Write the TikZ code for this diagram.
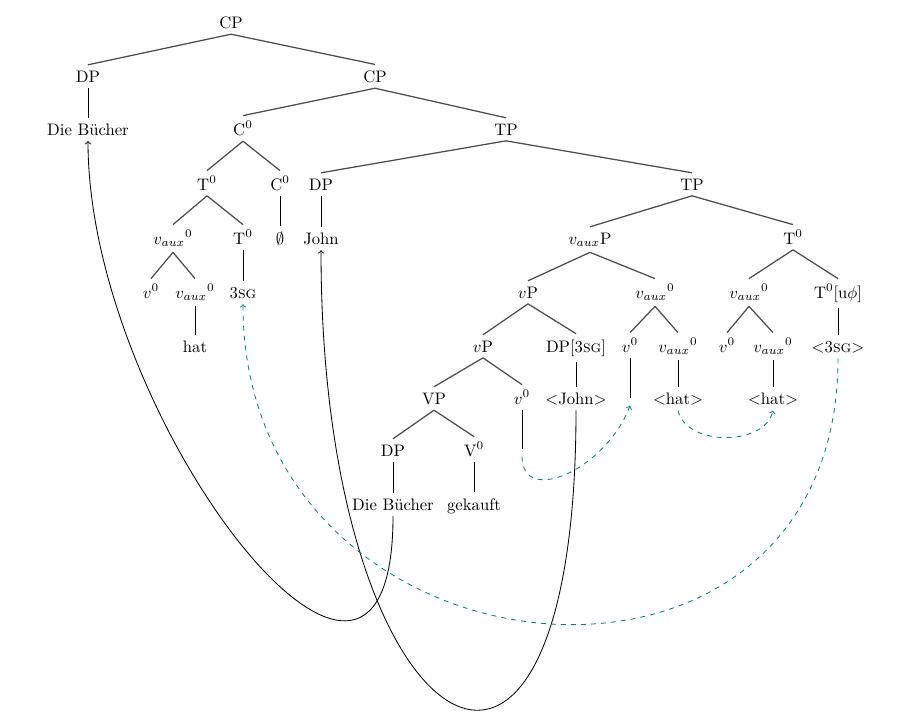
\documentclass[tikz,border=0pt]{standalone}
\begin{document}
\begin{tikzpicture}[x=0.6pt,y=0.6pt,yscale=-1,
    lbl/.style={anchor=base,inner sep=3.3pt},
    nil/.style={inner sep=0pt,minimum size=4pt},
    br/.style={draw=black!70,line width=0.75pt},
    un/.style={draw=black,line width=0.5pt},
    mv/.style={->,draw=black,line width=0.5pt},
    tmv/.style={->,draw=teal,dashed,line width=0.5pt}]
    \useasboundingbox (0,0) rectangle (911,722);

    % Text Node
    \node [lbl] (cp1) at (231,28) {CP};
    % Text Node
    \node [lbl] (dp1) at (88,82) {DP};
    \node [lbl] (cp2) at (375,82) {CP};
    % Text Node
    \node [lbl] (db1) at (88,135) {Die B\"ucher};
    \node [lbl] (c1) at (243,135) {C$^0$};
    \node [lbl] (tp1) at (506,135) {TP};
    % Text Node
    \node [lbl] (t1) at (207,190) {T$^0$};
    \node [lbl] (c2) at (280,190) {C$^0$};
    \node [lbl] (dp2) at (321,190) {DP};
    \node [lbl] (tp2) at (692,190) {TP};
    % Text Node
    \node [lbl] (va1) at (173,244) {$v_{aux}{}^0$};
    \node [lbl] (t2) at (243,244) {T$^0$};
    \node [lbl] (emp) at (280,244) {$\emptyset$};
    \node [lbl] (jn1) at (321,244) {John};
    \node [lbl] (vaxp) at (590,244) {$v_{aux}$P};
    \node [lbl] (t3) at (793,244) {T$^0$};
    % Text Node
    \node [lbl] (v1) at (151,298) {$v^0$};
    \node [lbl] (va2) at (195,298) {$v_{aux}{}^0$};
    \node [lbl] (sg1) at (243,298) {3\textsc{sg}};
    \node [lbl] (vp1) at (528,298) {$v$P};
    \node [lbl] (va3) at (655,298) {$v_{aux}{}^0$};
    \node [lbl] (va4) at (749,298) {$v_{aux}{}^0$};
    \node [lbl] (t4) at (838,298) {T$^0$[u$\phi$]};
    % Text Node
    \node [lbl] (hat) at (195,352) {hat};
    \node [lbl] (vp2) at (483,352) {$v$P};
    \node [lbl] (dp3) at (576,352) {DP[3\textsc{sg}]};
    \node [lbl] (v2) at (630,352) {$v^0$};
    \node [lbl] (va5) at (678,352) {$v_{aux}{}^0$};
    \node [lbl] (v3) at (727,352) {$v^0$};
    \node [lbl] (va6) at (773,352) {$v_{aux}{}^0$};
    \node [lbl] (sg2) at (838,352) {$<$3\textsc{sg}$>$};
    % Text Node
    \node [lbl] (vp3) at (434,404) {VP};
    \node [lbl] (v4) at (522,404) {$v^0$};
    \node [lbl] (jn2) at (576,404) {$<$John$>$};
    \node [nil] (e1) at (630,402) {};
    \node [lbl] (ht1) at (678,404) {$<$hat$>$};
    \node [lbl] (ht2) at (773,404) {$<$hat$>$};
    % Text Node
    \node [lbl] (dp4) at (393,456) {DP};
    \node [lbl] (vv) at (474,456) {V$^0$};
    \node [nil] (e2) at (522,453) {};
    % Text Node
    \node [lbl] (db2) at (393,510) {Die B\"ucher};
    \node [lbl] (gk) at (474,510) {gekauft};

    %Branches
    \foreach \p/\c in {cp1/dp1,cp1/cp2,cp2/c1,cp2/tp1,c1/t1,c1/c2,tp1/dp2,tp1/tp2,
        t1/va1,t1/t2,tp2/vaxp,tp2/t3,va1/v1,va1/va2,vaxp/vp1,vaxp/va3,t3/va4,t3/t4,
        vp1/vp2,vp1/dp3,va3/v2,va3/va5,va4/v3,va4/va6,vp2/vp3,vp2/v4,vp3/dp4,vp3/vv}
        \draw [br] (\p.south) -- (\c.north);
    %Straight Lines
    \foreach \p/\c in {dp1/db1,c2/emp,dp2/jn1,t2/sg1,va2/hat,t4/sg2,dp3/jn2,
        v2/e1,va5/ht1,va6/ht2,v4/e2,dp4/db2,vv/gk}
        \draw [un] (\p.south) -- (\c.north);

    %Movement
    \draw [mv] (db2.south) .. controls +(0,294) and +(0,280) .. (db1.south);
    \draw [mv] (jn2.south) .. controls +(0,489) and +(0,500) .. (jn1.south);
    \draw [tmv] (sg2.south) .. controls +(0,390) and +(0,388) .. (sg1.south);
    \draw [tmv] (e2.south) .. controls +(0,49) and +(-25,65) .. (e1.south);
    \draw [tmv] (ht1.south) .. controls +(8,36) and +(-8,36) .. (ht2.south);
\end{tikzpicture}
\end{document}
